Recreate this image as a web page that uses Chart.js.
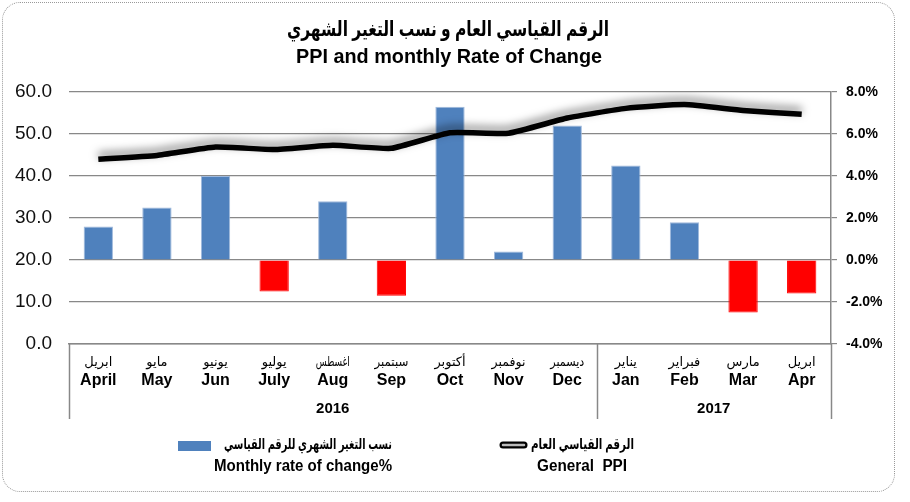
<!DOCTYPE html>
<html>
<head>
<meta charset="utf-8">
<script src="https://cdn.jsdelivr.net/npm/chart.js@4.4.1/dist/chart.umd.min.js"></script>
<style>
    html, body { margin: 0; padding: 0; background: #fff; }
    #wrap { position: relative; width: 910px; height: 502px; }
    #frame {
        position: absolute; left: 2px; top: 2px; width: 891px; height: 488px;
        border: 1px dotted #999; border-radius: 18px; pointer-events: none;
    }
    canvas { position: absolute; left: 0; top: 0; }
</style>
</head>
<body>
<div id="wrap">
    <canvas id="chart" width="910" height="502"></canvas>
    <div id="frame"></div>
</div>
<script>
// chart data
const monthsEn = ['April', 'May', 'Jun', 'July', 'Aug', 'Sep', 'Oct', 'Nov', 'Dec', 'Jan', 'Feb', 'Mar', 'Apr'];
const monthsAr = ['ابريل', 'مايو', 'يونيو', 'يوليو', 'اغسطس', 'سبتمبر', 'أكتوبر', 'نوفمبر', 'ديسمبر', 'يناير', 'فبراير', 'مارس', 'ابريل'];
const years = [{ label: '2016', from: 0, to: 8 }, { label: '2017', from: 9, to: 12 }];
const ppi = [44.0, 44.9, 46.9, 46.3, 47.3, 46.6, 50.3, 50.2, 53.8, 56.1, 57.0, 55.6, 54.7];
const rateOfChange = [1.6, 2.5, 4.0, -1.5, 2.8, -1.7, 7.3, 0.4, 6.4, 4.5, 1.8, -2.5, -1.6];
const leftTicks = { min: 0, max: 60, step: 10 };
const rightTicks = { min: -4, max: 8, step: 2 };

const titleAr = 'الرقم القياسي العام و نسب التغير الشهري';
const titleEn = 'PPI and monthly Rate of Change';
const legendBarAr = 'نسب التغير الشهري للرقم القياسي';
const legendBarEn = 'Monthly rate of change%';
const legendLineAr = 'الرقم القياسي العام';
const legendLineEn = 'General  PPI';

const BLUE = '#4F81BD';
const RED = '#FF0000';
const GRID = '#888888';
const FONT = '"Liberation Sans", Arial, "DejaVu Sans", sans-serif';

// shadow above the PPI line, and a small shift for its thin light inner line
const lineEffects = {
    id: 'lineEffects',
    beforeDatasetDraw(chart, args) {
        const ctx = chart.ctx;
        ctx.save();
        if (args.index === 0) {
            ctx.shadowColor = 'rgba(0,0,0,0.5)';
            ctx.shadowBlur = 8;
            ctx.shadowOffsetY = -4;
        } else if (args.index === 1) {
            ctx.translate(0, 1.3);
        }
    },
    afterDatasetDraw(chart) {
        chart.ctx.restore();
    }
};

const decor = {
    id: 'decor',
    afterDraw(chart) {
        const ctx = chart.ctx;
        const x = chart.scales.x;
        const area = chart.chartArea;
        ctx.save();

        // title
        ctx.fillStyle = '#000';
        ctx.textAlign = 'center';
        ctx.textBaseline = 'middle';
        ctx.font = 'bold 21px ' + FONT;
        ctx.fillText(titleAr, 448, 30, 322);
        ctx.font = 'bold 20px ' + FONT;
        ctx.fillText(titleEn, 449, 57, 306);

        // category labels
        monthsEn.forEach((m, i) => {
            const px = x.getPixelForValue(i);
            ctx.font = '13px ' + FONT;
            ctx.fillText(monthsAr[i], px, 362, 34);
            ctx.font = 'bold 16px ' + FONT;
            ctx.fillText(m, px, 381);
        });

        // year group box
        const boxBottom = 419;
        const splits = [area.left];
        years.forEach((y, k) => {
            const right = k === years.length - 1
                ? area.right
                : (x.getPixelForValue(y.to) + x.getPixelForValue(y.to + 1)) / 2;
            splits.push(right);
            const left = splits[k];
            ctx.font = 'bold 15px ' + FONT;
            ctx.fillText(y.label, (left + right) / 2, 409);
        });
        ctx.strokeStyle = GRID;
        ctx.lineWidth = 1.5;
        splits.forEach(sx => {
            ctx.beginPath();
            ctx.moveTo(Math.round(sx) + 0.5, area.bottom);
            ctx.lineTo(Math.round(sx) + 0.5, boxBottom);
            ctx.stroke();
        });

        // legend
        ctx.fillStyle = BLUE;
        ctx.fillRect(178, 441, 33, 10);
        ctx.fillStyle = '#000';
        ctx.textAlign = 'right';
        ctx.font = 'bold 15px ' + FONT;
        ctx.fillText(legendBarAr, 392, 445, 168);
        ctx.font = 'bold 16px ' + FONT;
        ctx.fillText(legendBarEn, 392, 467, 178);

        ctx.lineCap = 'round';
        ctx.strokeStyle = '#000';
        ctx.lineWidth = 7;
        ctx.beginPath();
        ctx.moveTo(503, 445);
        ctx.lineTo(524, 445);
        ctx.stroke();
        ctx.strokeStyle = '#bbb';
        ctx.lineWidth = 2.5;
        ctx.beginPath();
        ctx.moveTo(503, 445);
        ctx.lineTo(524, 445);
        ctx.stroke();

        ctx.fillStyle = '#000';
        ctx.textAlign = 'left';
        ctx.font = 'bold 15px ' + FONT;
        ctx.fillText(legendLineAr, 531, 445, 103);
        ctx.textAlign = 'center';
        ctx.font = 'bold 16px ' + FONT;
        ctx.fillText(legendLineEn, 582, 467, 90);

        ctx.restore();
    }
};

new Chart(document.getElementById('chart'), {
    data: {
        labels: monthsEn,
        datasets: [{
            type: 'line',
            label: legendLineEn,
            data: ppi,
            yAxisID: 'y',
            borderColor: '#000',
            borderWidth: 5.5,
            pointRadius: 0,
            tension: 0.15,
            order: 0
        }, {
            type: 'line',
            label: 'inner',
            data: ppi,
            yAxisID: 'y',
            borderColor: 'rgba(255,255,255,0.9)',
            borderWidth: 1,
            pointRadius: 0,
            tension: 0.15,
            order: 0
        }, {
            type: 'bar',
            label: legendBarEn,
            data: rateOfChange,
            yAxisID: 'y1',
            backgroundColor: rateOfChange.map(v => v < 0 ? RED : BLUE),
            borderColor: rateOfChange.map(v => v < 0 ? RED : '#9fb9dc'),
            borderWidth: 1,
            categoryPercentage: 1,
            barPercentage: 0.5,
            order: 1
        }]
    },
    options: {
        responsive: false,
        animation: false,
        layout: { padding: { top: 92, left: 14, right: 20, bottom: 150 } },
        plugins: {
            legend: { display: false },
            title: { display: false },
            tooltip: { enabled: false }
        },
        scales: {
            x: {
                type: 'category',
                offset: true,
                grid: { display: false },
                border: { display: true, color: GRID, width: 1.5 },
                ticks: { display: false }
            },
            y: {
                position: 'left',
                min: leftTicks.min,
                max: leftTicks.max,
                afterFit(scale) { scale.width = 55; },
                ticks: {
                    stepSize: leftTicks.step,
                    padding: 17,
                    color: '#111',
                    font: { family: FONT, size: 19 },
                    callback: v => v.toFixed(1)
                },
                grid: { color: GRID, lineWidth: 1.2, drawTicks: false },
                border: { display: false }
            },
            y1: {
                position: 'right',
                min: rightTicks.min,
                max: rightTicks.max,
                afterFit(scale) { scale.width = 59; },
                ticks: {
                    stepSize: rightTicks.step,
                    padding: 9,
                    color: '#000',
                    font: { family: FONT, size: 14, weight: 'bold' },
                    callback: v => v.toFixed(1) + '%'
                },
                grid: { drawOnChartArea: false, drawTicks: true, tickLength: 6, color: GRID, lineWidth: 1.2 },
                border: { display: true, color: GRID, width: 1.5 }
            }
        }
    },
    plugins: [lineEffects, decor]
});
</script>
</body>
</html>
